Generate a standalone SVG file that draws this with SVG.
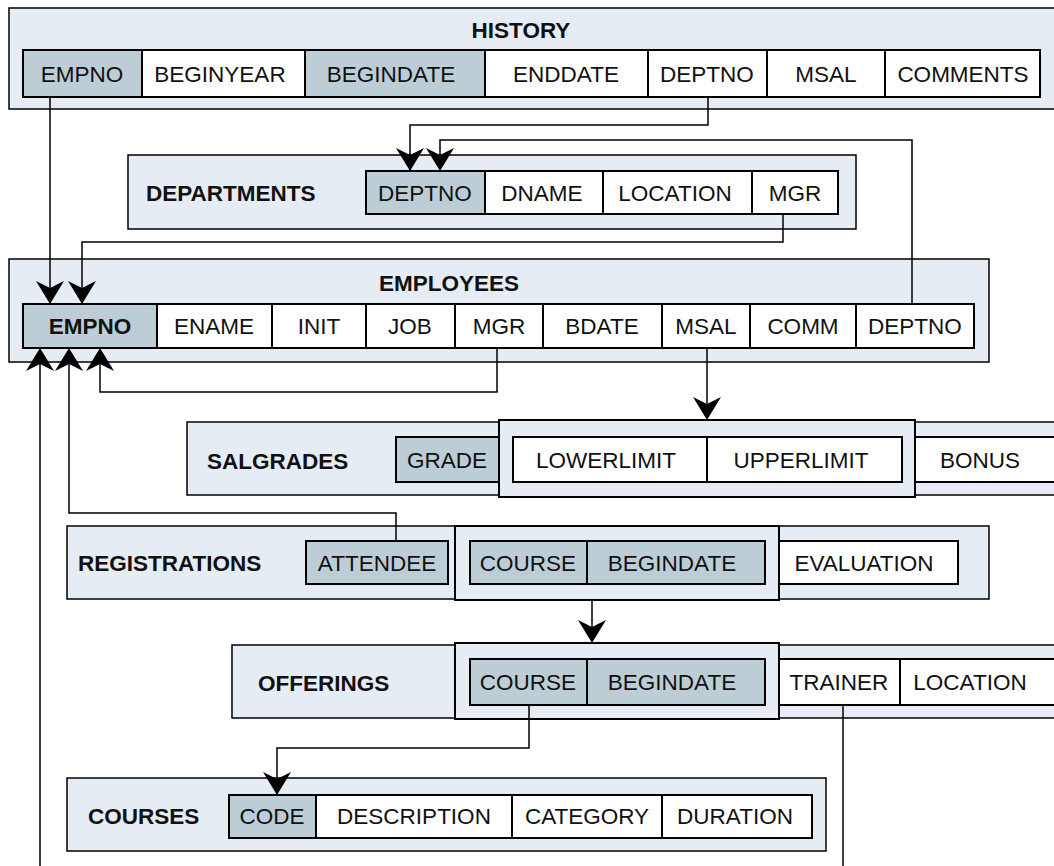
<svg xmlns="http://www.w3.org/2000/svg" width="1054" height="866" viewBox="0 0 1054 866">
<style>
.bg{fill:#e5ecf3;stroke:#000;stroke-width:1.5}
.grp{fill:#e5ecf3;stroke:#000;stroke-width:2}
.c{fill:#fff;stroke:#000;stroke-width:2}
.k{fill:#bdcdd6;stroke:#000;stroke-width:2}
text{font-family:"Liberation Sans",Arial,sans-serif;font-size:22.5px;fill:#111}
.f{text-anchor:middle}
.t{font-weight:bold}
.ln{fill:none;stroke:#000;stroke-width:1.5}
</style>
<defs>
<marker id="ah" markerUnits="userSpaceOnUse" markerWidth="30" markerHeight="30" viewBox="-24 -15 26 30" refX="0" refY="0" orient="auto">
<path d="M0,0 L-23,-14 L-16,0 L-23,14 Z" fill="#000"/>
</marker>
</defs>
<rect width="1054" height="866" fill="#fff"/>

<g id="history">
<rect class="bg" x="9" y="8" width="1055" height="101"/>
<text class="t f" x="521" y="38">HISTORY</text>
<rect class="k" x="23" y="50" width="119" height="47"/><text class="f" x="82" y="82">EMPNO</text>
<rect class="c" x="142" y="50" width="163" height="47"/><text class="f" x="220" y="82">BEGINYEAR</text>
<rect class="k" x="305" y="50" width="180" height="47"/><text class="f" x="391" y="82">BEGINDATE</text>
<rect class="c" x="485" y="50" width="163" height="47"/><text class="f" x="566" y="82">ENDDATE</text>
<rect class="c" x="648" y="50" width="119" height="47"/><text class="f" x="707" y="82">DEPTNO</text>
<rect class="c" x="767" y="50" width="118" height="47"/><text class="f" x="826" y="82">MSAL</text>
<rect class="c" x="885" y="50" width="155" height="47"/><text class="f" x="963" y="82">COMMENTS</text>
</g>

<g id="departments">
<rect class="bg" x="128" y="155" width="728" height="74"/>
<text class="t" x="146" y="201">DEPARTMENTS</text>
<rect class="k" x="366" y="171" width="119" height="43"/><text class="f" x="425" y="201">DEPTNO</text>
<rect class="c" x="485" y="171" width="118" height="43"/><text class="f" x="542" y="201">DNAME</text>
<rect class="c" x="603" y="171" width="149" height="43"/><text class="f" x="675" y="201">LOCATION</text>
<rect class="c" x="752" y="171" width="86" height="43"/><text class="f" x="795" y="201">MGR</text>
</g>

<g id="employees">
<rect class="bg" x="9" y="259" width="980" height="103"/>
<text class="t f" x="449" y="291">EMPLOYEES</text>
<rect class="k" x="23" y="304" width="134" height="44"/><text class="t f" x="90" y="334">EMPNO</text>
<rect class="c" x="157" y="304" width="115" height="44"/><text class="f" x="214" y="334">ENAME</text>
<rect class="c" x="272" y="304" width="94" height="44"/><text class="f" x="319" y="334">INIT</text>
<rect class="c" x="366" y="304" width="89" height="44"/><text class="f" x="410" y="334">JOB</text>
<rect class="c" x="455" y="304" width="88" height="44"/><text class="f" x="499" y="334">MGR</text>
<rect class="c" x="543" y="304" width="119" height="44"/><text class="f" x="602" y="334">BDATE</text>
<rect class="c" x="662" y="304" width="88" height="44"/><text class="f" x="706" y="334">MSAL</text>
<rect class="c" x="750" y="304" width="106" height="44"/><text class="f" x="803" y="334">COMM</text>
<rect class="c" x="856" y="304" width="118" height="44"/><text class="f" x="915" y="334">DEPTNO</text>
</g>

<g id="salgrades">
<rect class="bg" x="187" y="422" width="880" height="73"/>
<rect class="grp" x="499" y="420" width="416" height="77"/>
<text class="t" x="207" y="469">SALGRADES</text>
<rect class="k" x="396" y="437" width="103" height="45"/><text class="f" x="447" y="468">GRADE</text>
<rect class="c" x="513" y="437" width="194" height="45"/><text class="f" x="606" y="468">LOWERLIMIT</text>
<rect class="c" x="707" y="437" width="195" height="45"/><text class="f" x="801" y="468">UPPERLIMIT</text>
<rect class="c" x="915" y="437" width="150" height="45"/><text class="f" x="980" y="468">BONUS</text>
</g>

<g id="registrations">
<rect class="bg" x="67" y="526" width="922" height="73"/>
<rect class="grp" x="455" y="526" width="324" height="74"/>
<text class="t" x="78" y="571">REGISTRATIONS</text>
<rect class="k" x="306" y="541" width="142" height="43"/><text class="f" x="377" y="571">ATTENDEE</text>
<rect class="k" x="470" y="541" width="117" height="43"/><text class="f" x="528" y="571">COURSE</text>
<rect class="k" x="587" y="541" width="178" height="43"/><text class="f" x="672" y="571">BEGINDATE</text>
<rect class="c" x="779" y="541" width="179" height="43"/><text class="f" x="864" y="571">EVALUATION</text>
</g>

<g id="offerings">
<rect class="bg" x="232" y="645" width="835" height="73"/>
<rect class="grp" x="455" y="643" width="324" height="76"/>
<text class="t" x="258" y="691">OFFERINGS</text>
<rect class="k" x="470" y="659" width="117" height="46"/><text class="f" x="528" y="690">COURSE</text>
<rect class="k" x="587" y="659" width="178" height="46"/><text class="f" x="672" y="690">BEGINDATE</text>
<rect class="c" x="779" y="659" width="121" height="46"/><text class="f" x="839" y="690">TRAINER</text>
<rect class="c" x="900" y="659" width="170" height="46"/><text class="f" x="970" y="690">LOCATION</text>
</g>

<g id="courses">
<rect class="bg" x="67" y="778" width="759" height="73"/>
<text class="t" x="88" y="824">COURSES</text>
<rect class="k" x="229" y="795" width="87" height="43"/><text class="f" x="272" y="824">CODE</text>
<rect class="c" x="316" y="795" width="196" height="43"/><text class="f" x="414" y="824">DESCRIPTION</text>
<rect class="c" x="512" y="795" width="150" height="43"/><text class="f" x="587" y="824">CATEGORY</text>
<rect class="c" x="662" y="795" width="150" height="43"/><text class="f" x="735" y="824">DURATION</text>
</g>

<g id="connectors">
<path class="ln" d="M50,97 V304" marker-end="url(#ah)"/>
<path class="ln" d="M708,97 V125 H410 V171" marker-end="url(#ah)"/>
<path class="ln" d="M912,304 V140 H440 V171" marker-end="url(#ah)"/>
<path class="ln" d="M783,214 V242 H82 V304" marker-end="url(#ah)"/>
<path class="ln" d="M497,348 V392 H100 V348" marker-end="url(#ah)"/>
<path class="ln" d="M396,541 V513 H69 V348" marker-end="url(#ah)"/>
<path class="ln" d="M40,866 V348" marker-end="url(#ah)"/>
<path class="ln" d="M707,348 V420" marker-end="url(#ah)"/>
<path class="ln" d="M592,600 V643" marker-end="url(#ah)"/>
<path class="ln" d="M529,705 V748 H277 V795" marker-end="url(#ah)"/>
<path class="ln" d="M843,705 V866"/>
</g>
</svg>
